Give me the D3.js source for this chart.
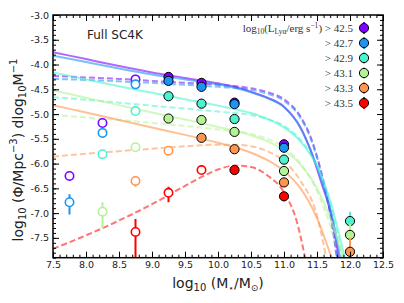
<!DOCTYPE html>
<html>
<head>
<meta charset="utf-8">
<script src="https://cdn.jsdelivr.net/npm/d3@7"></script>
<style>
  body { margin: 0; background: #fff; }
  svg { display: block; }
</style>
</head>
<body>
<svg id="chart" width="404" height="303"></svg>
<script>
// thresholds log10(L_Lya) and series colours (rainbow map)
const thresholds = ["42.5", "42.7", "42.9", "43.1", "43.3", "43.5"];
const colors = ["#8000ff", "#1a96f2", "#4df3ce", "#b3f396", "#ff964f", "#ff0000"];

// x ticks / y ticks
const xTicks = [7.5, 8.0, 8.5, 9.0, 9.5, 10.0, 10.5, 11.0, 11.5, 12.0, 12.5];
const yTicks = [-3.0, -3.5, -4.0, -4.5, -5.0, -5.5, -6.0, -6.5, -7.0, -7.5];

// filled points: [logM, logPhi, lo, hi]
const filled = [
    [[9.25, -4.25, -4.30, -4.21], [9.75, -4.37, -4.42, -4.33], [10.25, -4.77, -4.83, -4.72], [11.0, -5.61, -5.68, -5.55]],
    [[9.25, -4.33, -4.37, -4.29], [9.75, -4.45, -4.50, -4.41], [10.25, -4.80, -4.86, -4.75], [11.0, -5.68, -5.75, -5.62]],
    [[9.25, -4.64, -4.69, -4.60], [9.75, -4.79, -4.84, -4.75], [10.25, -5.10, -5.16, -5.05], [11.0, -5.92, -6.00, -5.85], [12.0, -7.16, -7.32, -6.97]],
    [[9.25, -5.09, -5.14, -5.05], [9.75, -5.12, -5.17, -5.08], [10.25, -5.36, -5.42, -5.31], [11.0, -6.15, -6.23, -6.08], [12.0, -7.44, -7.70, -7.22]],
    [[9.75, -5.48, -5.54, -5.43], [10.25, -5.71, -5.77, -5.66], [11.0, -6.38, -6.47, -6.31], [12.0, -7.78, -8.30, -7.50]],
    [[10.25, -6.13, -6.19, -6.08], [11.0, -6.66, -6.76, -6.58]]
];

// open (incomplete) points: [logM, logPhi, lo, hi]
const open = [
    [[7.75, -6.25, -6.33, -6.17], [8.25, -5.18, -5.22, -5.14], [8.75, -4.30, -4.33, -4.27]],
    [[7.75, -6.78, -7.03, -6.62], [8.25, -5.38, -5.42, -5.34], [8.75, -4.40, -4.43, -4.37]],
    [[8.25, -5.81, -5.86, -5.77], [8.75, -4.94, -4.98, -4.90]],
    [[8.25, -6.97, -7.31, -6.78], [8.75, -5.67, -5.72, -5.63]],
    [[8.75, -6.35, -6.46, -6.28], [9.25, -5.74, -5.79, -5.70]],
    [[8.75, -7.38, -8.50, -7.12], [9.25, -6.59, -6.78, -6.47], [9.75, -6.13, -6.19, -6.08]]
];

// fitted curves: [logM, logPhi]
const solidFits = [
    [[7.5, -3.75], [8.0, -3.89], [8.5, -4.03], [9.0, -4.16], [9.5, -4.27], [10.0, -4.38], [10.25, -4.45], [10.5, -4.55], [10.75, -4.67], [11.0, -4.85], [11.25, -5.27], [11.4, -5.72], [11.57, -6.40], [11.72, -7.07], [11.83, -7.90]],
    [[7.5, -3.82], [8.0, -3.95], [8.5, -4.08], [9.0, -4.20], [9.5, -4.30], [10.0, -4.40], [10.25, -4.47], [10.5, -4.56], [10.75, -4.68], [11.0, -4.86], [11.25, -5.28], [11.4, -5.72], [11.58, -6.40], [11.73, -7.07], [11.85, -7.90]],
    [[7.5, -4.16], [8.0, -4.30], [8.5, -4.44], [9.0, -4.57], [9.5, -4.70], [10.0, -4.83], [10.5, -4.98], [10.75, -5.10], [11.0, -5.27], [11.25, -5.55], [11.5, -6.05], [11.7, -6.75], [11.92, -7.90]],
    [[7.5, -4.52], [8.0, -4.67], [8.5, -4.82], [9.0, -4.97], [9.5, -5.11], [10.0, -5.26], [10.5, -5.43], [10.75, -5.55], [11.0, -5.73], [11.25, -6.02], [11.5, -6.50], [11.7, -7.10], [11.9, -7.90]],
    [[7.5, -4.82], [8.0, -4.97], [8.5, -5.12], [9.0, -5.27], [9.5, -5.42], [10.0, -5.58], [10.25, -5.67], [10.5, -5.78], [10.75, -5.93], [11.0, -6.15], [11.25, -6.50], [11.5, -7.10], [11.72, -7.90]],
    null
];

const dashedFits = [
    [[7.5, -4.23], [8.0, -4.26], [8.5, -4.29], [9.0, -4.33], [9.5, -4.37], [10.0, -4.41], [10.5, -4.48], [10.75, -4.56], [11.0, -4.70], [11.25, -5.05], [11.4, -5.45], [11.55, -6.10], [11.7, -7.00], [11.8, -7.90]],
    [[7.5, -4.29], [8.0, -4.31], [8.5, -4.34], [9.0, -4.37], [9.5, -4.41], [10.0, -4.45], [10.5, -4.51], [10.75, -4.59], [11.0, -4.73], [11.25, -5.08], [11.4, -5.48], [11.55, -6.12], [11.7, -7.02], [11.81, -7.90]],
    [[7.5, -4.66], [8.0, -4.71], [8.5, -4.77], [9.0, -4.83], [9.5, -4.89], [10.0, -4.95], [10.5, -5.02], [10.75, -5.10], [11.0, -5.24], [11.25, -5.52], [11.5, -6.05], [11.7, -6.80], [11.88, -7.90]],
    [[7.5, -5.02], [8.0, -5.07], [8.5, -5.12], [9.0, -5.18], [9.5, -5.24], [10.0, -5.31], [10.5, -5.40], [10.75, -5.50], [11.0, -5.67], [11.25, -6.00], [11.5, -6.55], [11.7, -7.25], [11.85, -7.90]],
    [[7.5, -5.86], [8.0, -5.80], [8.5, -5.75], [9.0, -5.70], [9.5, -5.65], [10.0, -5.62], [10.25, -5.62], [10.5, -5.65], [10.75, -5.75], [11.0, -5.95], [11.25, -6.35], [11.5, -7.05], [11.64, -7.90]],
    [[7.5, -7.72], [8.0, -7.45], [8.5, -7.15], [9.0, -6.82], [9.5, -6.45], [9.75, -6.27], [10.0, -6.12], [10.25, -6.04], [10.5, -6.07], [10.75, -6.24], [11.0, -6.58], [11.2, -7.20], [11.32, -7.90]]
];

const svg = d3.select("#chart");
const mLeft = 53, mRight = 383, mTop = 15, mBottom = 257.7;

const x = d3.scaleLinear().domain([7.5, 12.5]).range([mLeft, mRight]);
const y = d3.scaleLinear().domain([-7.9, -3.0]).range([mBottom, mTop]);

svg.append("defs").append("clipPath").attr("id", "clip")
    .append("rect")
    .attr("x", mLeft).attr("y", mTop)
    .attr("width", mRight - mLeft).attr("height", mBottom - mTop);

const plot = svg.append("g").attr("clip-path", "url(#clip)");

const line = d3.line()
    .x(d => x(d[0]))
    .y(d => y(d[1]))
    .curve(d3.curveMonotoneX);

// dashed fits first, then solid
dashedFits.forEach((s, i) => {
    if (!s) return;
    plot.append("path")
        .attr("d", line(s))
        .attr("fill", "none")
        .attr("stroke", colors[i])
        .attr("stroke-opacity", 0.55)
        .attr("stroke-width", 2)
        .attr("stroke-dasharray", "6,3");
});
solidFits.forEach((s, i) => {
    if (!s) return;
    plot.append("path")
        .attr("d", line(s))
        .attr("fill", "none")
        .attr("stroke", colors[i])
        .attr("stroke-opacity", 0.6)
        .attr("stroke-width", 2);
});

// error bars + markers
function drawPoints(sets, isFilled) {
    sets.forEach((pts, i) => {
        const g = plot.append("g");
        g.selectAll("line")
            .data(pts)
            .join("line")
            .attr("x1", d => x(d[0])).attr("x2", d => x(d[0]))
            .attr("y1", d => y(d[2])).attr("y2", d => y(d[3]))
            .attr("stroke", colors[i])
            .attr("stroke-width", 2);
        g.selectAll("circle")
            .data(pts)
            .join("circle")
            .attr("cx", d => x(d[0]))
            .attr("cy", d => y(d[1]))
            .attr("r", isFilled ? 4.6 : 4.2)
            .attr("fill", isFilled ? colors[i] : "#fff")
            .attr("stroke", isFilled ? "#000" : colors[i])
            .attr("stroke-width", isFilled ? 1 : 1.6);
    });
}
drawPoints(open, false);
drawPoints(filled, true);

// axes with inward ticks on every side
const fmt = d => d.toFixed(1);
const xMinor = d3.range(75, 126).map(d => d / 10);
const yMinor = d3.range(30, 80).map(d => -d / 10);

function axisGroup(axis, tx, ty) {
    const g = svg.append("g").attr("transform", `translate(${tx},${ty})`).call(axis);
    g.select(".domain").remove();
    g.selectAll("line").attr("stroke", "#000").attr("stroke-width", 1);
    g.selectAll("text")
        .attr("font-family", "DejaVu Sans, sans-serif")
        .attr("font-size", "9.5px")
        .attr("fill", "#222");
    return g;
}

axisGroup(d3.axisBottom(x).tickValues(xTicks).tickSize(-6).tickPadding(4).tickFormat(fmt), 0, mBottom);
axisGroup(d3.axisBottom(x).tickValues(xMinor).tickSize(-3).tickFormat(""), 0, mBottom);
axisGroup(d3.axisTop(x).tickValues(xTicks).tickSize(-6).tickFormat(""), 0, mTop);
axisGroup(d3.axisTop(x).tickValues(xMinor).tickSize(-3).tickFormat(""), 0, mTop);
axisGroup(d3.axisLeft(y).tickValues(yTicks).tickSize(-6).tickPadding(4).tickFormat(fmt), mLeft, 0);
axisGroup(d3.axisLeft(y).tickValues(yMinor).tickSize(-3).tickFormat(""), mLeft, 0);
axisGroup(d3.axisRight(y).tickValues(yTicks).tickSize(-6).tickFormat(""), mRight, 0);
axisGroup(d3.axisRight(y).tickValues(yMinor).tickSize(-3).tickFormat(""), mRight, 0);

svg.append("rect")
    .attr("x", mLeft).attr("y", mTop)
    .attr("width", mRight - mLeft).attr("height", mBottom - mTop)
    .attr("fill", "none")
    .attr("stroke", "#000")
    .attr("stroke-width", 1.5);

// panel title
svg.append("text")
    .attr("x", 87).attr("y", 38.5)
    .attr("font-family", "DejaVu Sans, sans-serif")
    .attr("font-size", "12px")
    .attr("fill", "#222")
    .text("Full SC4K");

// axis labels
const xl = svg.append("text")
    .attr("x", 218).attr("y", 288)
    .attr("text-anchor", "middle")
    .attr("font-family", "DejaVu Sans, sans-serif")
    .attr("font-size", "14px")
    .attr("fill", "#222");
xl.append("tspan").text("log");
xl.append("tspan").attr("font-size", "10px").attr("dy", 3).text("10");
xl.append("tspan").attr("dy", -3).text(" (M");
xl.append("tspan").attr("font-size", "9px").attr("dy", 3).text("⋆");
xl.append("tspan").attr("dy", -3).text("/M");
xl.append("tspan").attr("font-size", "9px").attr("dy", 3).text("⊙");
xl.append("tspan").attr("dy", -3).text(")");

const yl = svg.append("text")
    .attr("transform", "translate(23,150) rotate(-90)")
    .attr("text-anchor", "middle")
    .attr("font-family", "DejaVu Sans, sans-serif")
    .attr("font-size", "14px")
    .attr("fill", "#222");
yl.append("tspan").text("log");
yl.append("tspan").attr("font-size", "10px").attr("dy", 3).text("10");
yl.append("tspan").attr("dy", -3).text(" (Φ/Mpc");
yl.append("tspan").attr("font-size", "10px").attr("dy", -6).text("−3");
yl.append("tspan").attr("dy", 6).text(") dlog");
yl.append("tspan").attr("font-size", "10px").attr("dy", 3).text("10");
yl.append("tspan").attr("dy", -3).text("M");
yl.append("tspan").attr("font-size", "10px").attr("dy", -6).text("−1");

// legend
const legX = 353, legMarker = 364, legY0 = 28, legStep = 15;
thresholds.forEach((t, i) => {
    const ty = legY0 + i * legStep;
    const txt = svg.append("text")
        .attr("x", legX).attr("y", ty + 3.5)
        .attr("text-anchor", "end")
        .attr("font-family", "Liberation Serif, serif")
        .attr("font-size", "11px")
        .attr("fill", "#333");
    if (i === 0) {
        txt.append("tspan").text("log");
        txt.append("tspan").attr("font-size", "7.5px").attr("dy", 2).text("10");
        txt.append("tspan").attr("dy", -2).text("(L");
        txt.append("tspan").attr("font-size", "7.5px").attr("dy", 2).text("Lyα");
        txt.append("tspan").attr("dy", -2).text("/erg s");
        txt.append("tspan").attr("font-size", "7.5px").attr("dy", -4).text("−1");
        txt.append("tspan").attr("dy", 4).text(") > " + t);
    } else {
        txt.text("> " + t);
    }
    svg.append("line")
        .attr("x1", legMarker).attr("x2", legMarker)
        .attr("y1", ty - 6).attr("y2", ty + 6)
        .attr("stroke", colors[i]).attr("stroke-width", 2);
    svg.append("circle")
        .attr("cx", legMarker).attr("cy", ty)
        .attr("r", 4.6)
        .attr("fill", colors[i])
        .attr("stroke", "#000")
        .attr("stroke-width", 1);
});
</script>
</body>
</html>
